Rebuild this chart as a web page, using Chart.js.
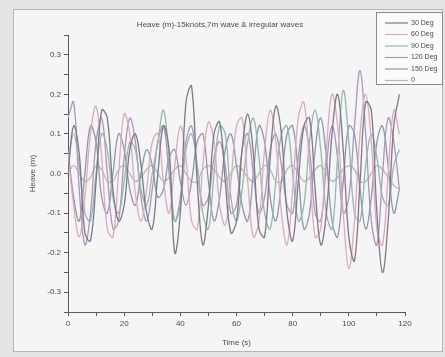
<!DOCTYPE html>
<html>
<head>
<meta charset="utf-8">
<script src="https://cdn.jsdelivr.net/npm/chart.js@4.4.1/dist/chart.umd.min.js"></script>
<style>
    body { margin: 0; background: #e4e4e4; }
    canvas { display: block; }
</style>
</head>
<body>
<canvas id="heaveChart" width="445" height="357"></canvas>
<script>
// time axis (s)
const times = [0, 2, 4, 6, 8, 10, 12, 14, 16, 18, 20, 22, 24, 26, 28, 30, 32, 34, 36, 38,
    40, 42, 44, 46, 48, 50, 52, 54, 56, 58, 60, 62, 64, 66, 68, 70, 72, 74, 76, 78,
    80, 82, 84, 86, 88, 90, 92, 94, 96, 98, 100, 102, 104, 106, 108, 110, 112, 114, 116, 118];

const seriesLabels = ['30 Deg', '60 Deg', '90 Deg', '120 Deg', '150 Deg', '0'];

// heave (m)
const heave30 = [0.00, 0.12, 0.05, -0.15, -0.17, -0.02, 0.16, 0.14, -0.04, -0.12, -0.08, 0.06, 0.10, 0.02, -0.10, -0.14, 0.00, 0.12, 0.06, -0.20,
    -0.10, 0.18, 0.22, -0.02, -0.18, -0.08, 0.10, 0.13, -0.02, -0.15, -0.12, 0.06, 0.15, 0.05, -0.14, -0.16, 0.04, 0.17, 0.10, -0.10,
    -0.17, -0.02, 0.12, 0.14, -0.04, -0.18, -0.10, 0.10, 0.20, 0.06, -0.16, -0.22, -0.02, 0.18, 0.16, -0.10, -0.25, -0.12, 0.12, 0.20];
const heave60 = [0.05, -0.08, -0.16, -0.06, 0.10, 0.17, 0.04, -0.14, -0.16, 0.00, 0.15, 0.10, -0.05, -0.12, -0.04, 0.08, 0.10, -0.02, -0.10, 0.02,
    0.12, 0.04, -0.12, -0.14, 0.02, 0.13, 0.08, -0.08, -0.13, -0.02, 0.12, 0.14, -0.02, -0.16, -0.12, 0.06, 0.16, 0.08, -0.10, -0.18,
    -0.04, 0.14, 0.18, 0.02, -0.16, -0.14, 0.06, 0.20, 0.12, -0.10, -0.24, -0.12, 0.10, 0.20, 0.08, -0.14, -0.18, 0.00, 0.16, 0.10];
const heave90 = [0.02, 0.10, 0.02, -0.10, -0.12, 0.00, 0.10, 0.06, -0.06, -0.10, -0.02, 0.08, 0.06, -0.04, -0.08, 0.00, 0.08, 0.16, 0.04, -0.12,
    -0.08, 0.06, 0.10, 0.02, -0.10, -0.14, 0.00, 0.12, 0.10, -0.06, -0.12, -0.04, 0.08, 0.14, 0.04, -0.10, -0.14, -0.02, 0.10, 0.12,
    0.00, -0.12, -0.08, 0.08, 0.16, 0.06, -0.10, -0.14, 0.04, 0.21, 0.08, -0.10, -0.12, 0.02, 0.10, 0.04, -0.06, -0.08, 0.02, 0.06];
const heave120 = [0.14, 0.18, -0.04, -0.18, -0.10, 0.08, 0.14, 0.00, -0.14, -0.12, 0.04, 0.14, 0.08, -0.06, -0.12, -0.04, 0.08, 0.12, 0.00, -0.12,
    -0.06, 0.08, 0.12, 0.02, -0.08, -0.06, 0.04, 0.08, 0.02, -0.10, -0.08, 0.06, 0.10, 0.00, -0.10, -0.06, 0.06, 0.10, 0.02, -0.08,
    -0.10, 0.04, 0.12, 0.06, -0.10, -0.12, 0.02, 0.12, 0.04, -0.10, -0.06, 0.12, 0.26, 0.10, -0.12, -0.18, 0.00, 0.14, 0.08, -0.04];
const heave150 = [0.06, -0.06, -0.12, 0.00, 0.12, 0.08, -0.06, -0.10, 0.00, 0.10, 0.06, -0.04, -0.08, 0.00, 0.06, 0.02, -0.06, -0.04, 0.04, 0.06,
    -0.02, -0.08, -0.02, 0.08, 0.10, -0.02, -0.12, -0.06, 0.06, 0.10, 0.02, -0.08, -0.12, 0.00, 0.12, 0.08, -0.06, -0.12, -0.02, 0.10,
    0.12, 0.00, -0.14, -0.10, 0.06, 0.14, 0.04, -0.12, -0.16, -0.02, 0.12, 0.10, -0.04, -0.14, -0.06, 0.08, 0.12, 0.02, -0.10, -0.04];
const heave0 = [0.00, 0.02, 0.00, -0.02, -0.01, 0.02, 0.01, -0.02, -0.02, 0.01, 0.02, 0.00, -0.02, -0.01, 0.01, 0.02, 0.00, -0.02, -0.01, 0.01,
    0.02, 0.00, -0.02, -0.02, 0.01, 0.02, 0.01, -0.01, -0.02, 0.00, 0.02, 0.01, -0.01, -0.02, 0.00, 0.02, 0.01, -0.02, -0.02, 0.01,
    0.02, 0.00, -0.02, -0.01, 0.01, 0.02, 0.00, -0.02, -0.01, 0.01, 0.02, 0.01, -0.02, -0.02, 0.00, 0.02, 0.01, -0.01, -0.03, -0.04];

const xTicks = [0, 20, 40, 60, 80, 100, 120];
const yTicks = [-0.3, -0.2, -0.1, 0.0, 0.1, 0.2, 0.3];

const allSeries = [heave30, heave60, heave90, heave120, heave150, heave0];
const colors = ['#7d7985', '#dcaabe', '#97b6b1', '#a897be', '#9296aa', '#b8b8b8'];

const textColor = '#4c4c4c';
const axisColor = '#5a5a5a';

// paper background + frame, like the photographed page
const paperPlugin = {
    id: 'paper',
    beforeDraw(chart) {
        const c = chart.ctx;
        c.save();
        c.fillStyle = '#e4e4e4';
        c.fillRect(0, 0, chart.width, chart.height);
        c.fillStyle = '#f5f5f5';
        c.fillRect(13, 9, 430, 343);
        c.strokeStyle = '#b5b5b5';
        c.lineWidth = 1;
        c.strokeRect(13.5, 9.5, 429, 342);
        c.restore();
    }
};

// title and the boxed legend at top right
const decorPlugin = {
    id: 'decor',
    afterDraw(chart) {
        const c = chart.ctx;
        c.save();
        c.fillStyle = textColor;
        c.font = '8px "Liberation Sans", Arial, sans-serif';
        c.textAlign = 'center';
        c.textBaseline = 'middle';
        c.fillText('Heave (m)-15knots,7m wave & irregular waves', 220, 25);

        c.fillStyle = '#fafafa';
        c.fillRect(376, 12, 67, 73);
        c.strokeStyle = '#8a8a8a';
        c.lineWidth = 1;
        c.strokeRect(376.5, 12.5, 66, 72);

        c.font = '7px "Liberation Sans", Arial, sans-serif';
        c.textAlign = 'left';
        chart.data.datasets.forEach((ds, i) => {
            const y = 23 + i * 11.5;
            c.strokeStyle = ds.borderColor;
            c.lineWidth = 1.2;
            c.beginPath();
            c.moveTo(385, y);
            c.lineTo(408, y);
            c.stroke();
            c.fillStyle = textColor;
            c.fillText(ds.label, 411, y);
        });
        c.restore();
    }
};

const datasets = seriesLabels.map((label, i) => ({
    label: label,
    data: times.map((t, j) => ({ x: t, y: allSeries[i][j] })),
    borderColor: colors[i],
    borderWidth: 1.3,
    pointRadius: 0,
    tension: 0.4,
    fill: false
}));

new Chart(document.getElementById('heaveChart'), {
    type: 'line',
    data: { datasets: datasets },
    options: {
        responsive: false,
        animation: false,
        layout: {
            padding: { left: 24, top: 35, right: 40, bottom: 5 }
        },
        plugins: {
            legend: { display: false },
            tooltip: { enabled: false }
        },
        scales: {
            x: {
                type: 'linear',
                min: 0,
                max: 120,
                afterBuildTicks: (scale) => {
                    const t = [];
                    for (let v = 0; v <= 120; v += 10) t.push({ value: v });
                    scale.ticks = t;
                },
                afterFit: (scale) => { scale.height = 40; },
                border: { color: axisColor, width: 1 },
                grid: { drawOnChartArea: false, tickLength: 4, color: axisColor },
                ticks: {
                    color: textColor,
                    font: { size: 8 },
                    padding: 3,
                    maxRotation: 0,
                    autoSkip: false,
                    callback: (v) => xTicks.includes(v) ? String(v) : ''
                },
                title: {
                    display: true,
                    text: 'Time (s)',
                    color: textColor,
                    font: { size: 8 },
                    padding: { top: 2 }
                }
            },
            y: {
                min: -0.35,
                max: 0.35,
                afterBuildTicks: (scale) => {
                    const t = [];
                    for (let k = -7; k <= 7; k++) t.push({ value: k / 20 });
                    scale.ticks = t;
                },
                afterFit: (scale) => { scale.width = 44; },
                border: { color: axisColor, width: 1 },
                grid: { drawOnChartArea: false, tickLength: 4, color: axisColor },
                ticks: {
                    color: textColor,
                    font: { size: 8 },
                    padding: 3,
                    autoSkip: false,
                    callback: (v) => {
                        const hit = yTicks.find(t => Math.abs(t - v) < 1e-6);
                        return hit === undefined ? '' : hit.toFixed(1);
                    }
                },
                title: {
                    display: true,
                    text: 'Heave (m)',
                    color: textColor,
                    font: { size: 8 },
                    padding: { bottom: 2 }
                }
            }
        }
    },
    plugins: [paperPlugin, decorPlugin]
});
</script>
</body>
</html>
